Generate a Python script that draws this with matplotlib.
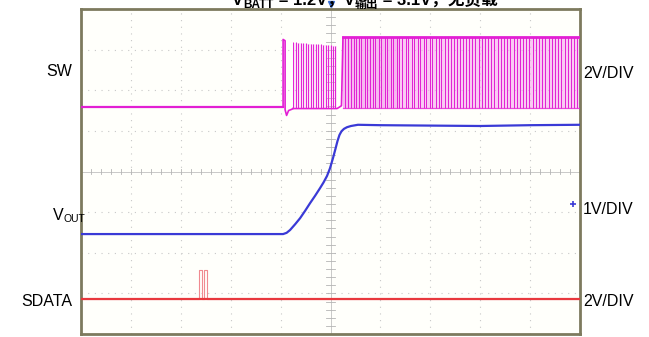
import matplotlib
matplotlib.use("Agg")
import matplotlib.pyplot as plt
import numpy as np

# ---- trace data (horizontal and vertical units are scope divisions) ----
# SW node: idle level, first burst, then steady switching
sw_idle_t = [0.0, 4.05]
sw_idle_v = [5.59, 5.59]
sw_high = 7.30
sw_low = 5.57
# first single pulse then a short gap
sw_start_t = [4.05, 4.05, 4.09, 4.09, 4.12, 4.16, 4.22, 4.25]
sw_start_v = [5.59, 7.25, 7.22, 5.52, 5.38, 5.50, 5.53, 5.55]
# first burst pulses (centres and peak levels)
burst_t = [4.25, 4.30, 4.35, 4.40, 4.45, 4.50, 4.55, 4.60, 4.65, 4.70,
           4.75, 4.80, 4.85, 4.90, 4.95, 5.00, 5.05, 5.10]
burst_v = [7.18, 7.19, 7.17, 7.17, 7.16, 7.16, 7.15, 7.15, 7.14, 7.14,
           7.13, 7.13, 7.12, 7.12, 7.11, 7.11, 7.10, 7.10]
# downward spikes in the steady switching region
spike_t = [5.30, 5.36, 5.41, 5.47, 5.52, 5.58, 5.62, 5.69, 5.74, 5.80,
           5.86, 5.90, 5.97, 6.02, 6.09, 6.14, 6.21, 6.26, 6.33, 6.38,
           6.44, 6.51, 6.56, 6.63, 6.68, 6.75, 6.80, 6.87, 6.92, 6.99,
           7.04, 7.11, 7.17, 7.22, 7.29, 7.35, 7.41, 7.47, 7.53, 7.59,
           7.65, 7.72, 7.78, 7.84, 7.90, 7.97, 8.03, 8.09, 8.16, 8.22,
           8.28, 8.35, 8.41, 8.47, 8.54, 8.60, 8.67, 8.73, 8.79, 8.86,
           8.92, 8.98, 9.05, 9.11, 9.18, 9.24, 9.30, 9.37, 9.43, 9.50,
           9.56, 9.62, 9.69, 9.75, 9.82, 9.88, 9.94]

# output voltage ramp
vout_t = [0.0, 4.05, 4.12, 4.19, 4.29, 4.39, 4.49, 4.59, 4.69, 4.79,
          4.86, 4.93, 4.99, 5.05, 5.10, 5.14, 5.18, 5.22, 5.27, 5.33,
          5.41, 5.55, 6.0, 7.0, 8.0, 9.0, 10.0]
vout_v = [2.46, 2.46, 2.49, 2.56, 2.70, 2.85, 3.03, 3.22, 3.40, 3.59,
          3.73, 3.89, 4.08, 4.33, 4.56, 4.75, 4.90, 4.99, 5.05, 5.09,
          5.12, 5.15, 5.14, 5.13, 5.12, 5.14, 5.15]

# serial data line with a short command burst
sdata_t = [0.0, 2.36, 2.36, 2.42, 2.42, 2.46, 2.46, 2.52, 2.52, 10.0]
sdata_v = [0.86, 0.86, 1.58, 1.58, 0.86, 0.86, 1.58, 1.58, 0.86, 0.86]

left_labels = ["SW", "V", "SDATA"]
right_labels = ["2V/DIV", "1V/DIV", "2V/DIV"]

SW_C = "#e21fd4"
SW_FILL = "#f5a8ee"
VOUT_C = "#3a3ad6"
SDATA_C = "#e8383d"

plt.rcParams["font.family"] = ["Liberation Sans", "Noto Sans CJK SC", "DejaVu Sans"]

fig = plt.figure(figsize=(6.49, 3.37), dpi=100)
ax = fig.add_axes([81 / 649, 3 / 337, 499 / 649, 325 / 337])
ax.set_xlim(0, 10)
ax.set_ylim(0, 8)
ax.set_facecolor("#fffffb")
for s in ax.spines.values():
    s.set_color("#7d7a5e")
    s.set_linewidth(2.0)
ax.set_xticks([])
ax.set_yticks([])

# graticule
for gx in range(1, 10):
    if gx != 5:
        ax.axvline(gx, color="#c8c8c8", lw=0.8, ls=(0, (1, 5)), zorder=0)
for gy in range(1, 8):
    if gy != 4:
        ax.axhline(gy, color="#c8c8c8", lw=0.8, ls=(0, (1, 5)), zorder=0)
ax.axhline(4, color="#c0c0c0", lw=0.6, zorder=0)
ax.axvline(5, color="#c0c0c0", lw=0.6, zorder=0)
for m in np.arange(0.2, 10, 0.2):
    ax.plot([m, m], [3.94, 4.06], color="#b4b4b4", lw=0.6, zorder=0)
for m in np.arange(0.2, 8, 0.2):
    ax.plot([4.9, 5.1], [m, m], color="#b4b4b4", lw=0.6, zorder=0)

# SW trace
ax.plot(sw_idle_t, sw_idle_v, color=SW_C, lw=1.6, zorder=3)
ax.plot(sw_start_t, sw_start_v, color=SW_C, lw=1.2, zorder=3)
ax.fill_between([burst_t[0], burst_t[-1] + 0.02], sw_low + 0.02,
                [burst_v[0], burst_v[-1]], color=SW_FILL, alpha=0.35, lw=0, zorder=2)
ax.vlines(burst_t, sw_low, burst_v, color=SW_C, lw=0.7, zorder=3)
ax.plot([burst_t[0], 5.13, 5.16, 5.22, 5.25], [5.55, 5.55, 5.57, 5.62, sw_high],
        color=SW_C, lw=1.2, zorder=3)
ax.fill_between([5.25, 10.0], sw_low, sw_high, color=SW_FILL, alpha=0.6, lw=0, zorder=2)
ax.fill_between([5.25, 6.4], sw_low, sw_high, color=SW_FILL, alpha=0.5, lw=0, zorder=2)
ax.vlines(spike_t, sw_low, sw_high, color=SW_C, lw=0.7, zorder=3)
ax.plot([5.25, 10.0], [sw_high, sw_high], color=SW_C, lw=2.0, zorder=3)
ax.plot([5.25, 10.0], [sw_low, sw_low], color=SW_C, lw=0.9, alpha=0.8, zorder=3)

# VOUT trace
ax.plot(vout_t, vout_v, color=VOUT_C, lw=1.6, zorder=4)
ax.plot([9.86], [3.2], marker="+", color=VOUT_C, ms=4, mew=1.2, zorder=5)

# SDATA trace
ax.plot(sdata_t, sdata_v, color="#f08a90", lw=0.8, zorder=3)
ax.plot([0, 10], [0.86, 0.86], color=SDATA_C, lw=1.6, zorder=4)

# trigger marker
ax.plot([5.01], [8.12], marker="v", color="#3a6fd6", ms=5, clip_on=False, zorder=6)

renderer = fig.canvas.get_renderer()

# channel labels
fs = 11.5
fig.text(72 / 649, 1 - 72 / 337, left_labels[0], ha="right", va="center", fontsize=fs)
tv = fig.text(53 / 649, 1 - 216 / 337, left_labels[1], ha="left", va="center", fontsize=fs)
vx = 53 + tv.get_window_extent(renderer=renderer).width
fig.text(vx / 649, 1 - 219 / 337, "OUT", ha="left", va="center", fontsize=7.5)
fig.text(72 / 649, 1 - 301 / 337, left_labels[2], ha="right", va="center", fontsize=fs)
for lab, yy in zip(right_labels, [73, 210, 301]):
    fig.text(583 / 649, 1 - yy / 337, lab, ha="left", va="center", fontsize=fs)

# title (runs off the top edge of the canvas)
pieces = [("V", 0, 12), ("BATT", -3, 8.5), (" = 1.2V，V", 0, 12), ("输出", -3, 8.5),
          (" = 3.1V，无负载", 0, 12)]
x0 = 232.0
for txt, dy, size in pieces:
    t = fig.text(x0 / 649, 1 - (5 - dy) / 337, txt, ha="left", va="baseline",
                 fontsize=size, fontweight="bold")
    x0 += t.get_window_extent(renderer=renderer).width

fig.savefig("out.png", dpi=100)
